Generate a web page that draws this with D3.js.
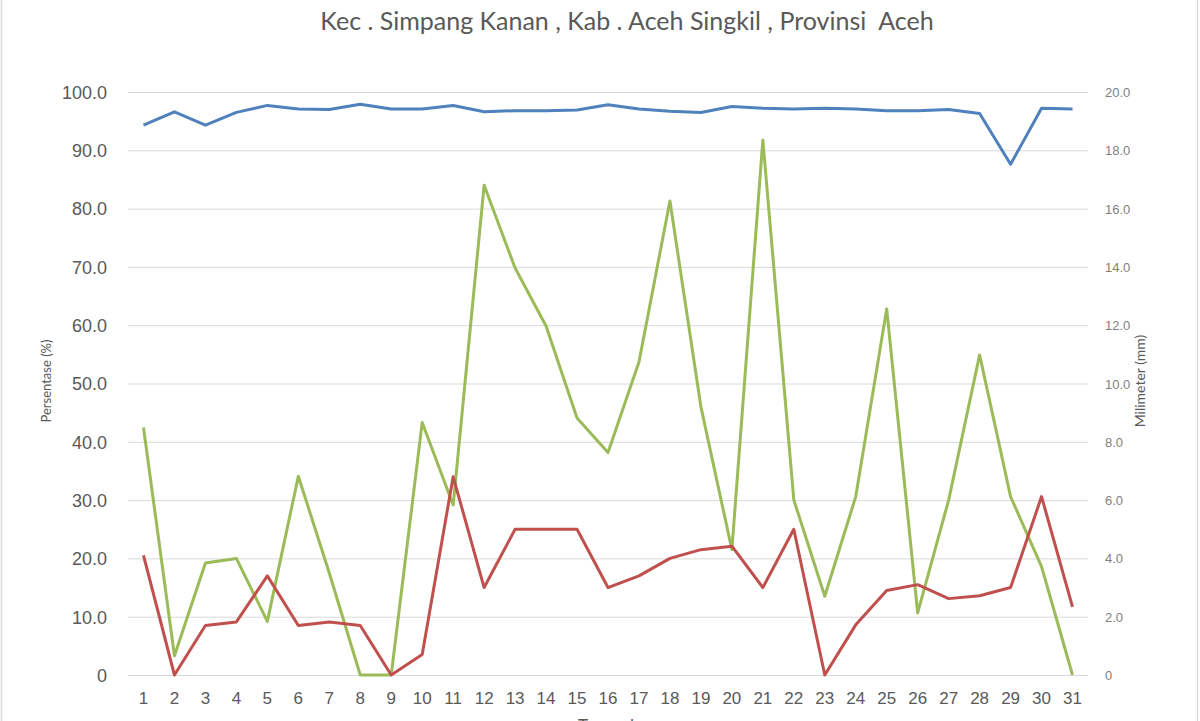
<!DOCTYPE html>
<html>
<head>
<meta charset="utf-8">
<script src="https://cdn.jsdelivr.net/npm/d3@7"></script>
<style>
  body { margin: 0; background: #fff; }
  svg { display: block; font-family: Lato, "Open Sans", sans-serif; }
</style>
</head>
<body>
<div id="chart"></div>
<script>
// days of the month
const days = d3.range(1, 32);

// humidity (%) - left axis
const kelembaban = [94.3, 96.6, 94.3, 96.5, 97.7, 97.1, 97.0, 97.9, 97.1, 97.1,
  97.7, 96.6, 96.8, 96.8, 96.9, 97.8, 97.1, 96.7, 96.5, 97.5,
  97.2, 97.1, 97.2, 97.1, 96.8, 96.8, 97.0, 96.3, 87.6, 97.2, 97.1];

// red series (%) - left axis
const persenMerah = [20.5, 0, 8.5, 9.1, 17.0, 8.5, 9.1, 8.5, 0, 3.5,
  34.0, 15.0, 25.0, 25.0, 25.0, 15.0, 17.0, 20.0, 21.5, 22.1,
  15.0, 25.0, 0, 8.6, 14.5, 15.5, 13.1, 13.6, 15.0, 30.6, 11.7];

// rainfall (mm) - right axis
const curahHujan = [8.49, 0.66, 3.84, 4.0, 1.84, 6.82, 3.5, 0, 0, 8.66,
  5.83, 16.8, 13.96, 11.97, 8.82, 7.63, 10.74, 16.26, 9.2, 4.3,
  18.35, 6.01, 2.7, 6.12, 12.56, 2.13, 6.0, 10.98, 6.12, 3.72, 0];

const leftTicks = [0, 10, 20, 30, 40, 50, 60, 70, 80, 90, 100];
const rightTicks = [0, 2, 4, 6, 8, 10, 12, 14, 16, 18, 20];

const w = 1200;
const h = 721;
const plot = { left: 128, right: 1088, top: 92, bottom: 675 };

const svg = d3.select("#chart").append("svg")
  .attr("width", w)
  .attr("height", h);

// chart border
svg.append("rect")
  .attr("x", 1.5).attr("y", -10)
  .attr("width", 1196).attr("height", h + 20)
  .attr("fill", "none")
  .attr("stroke", "#d9d9d9")
  .attr("stroke-width", 1.5);

// scales
const x = d3.scaleBand().domain(days).range([plot.left, plot.right]);
const yLeft = d3.scaleLinear().domain([0, 100]).range([plot.bottom, plot.top]);
const yRight = d3.scaleLinear().domain([0, 20]).range([plot.bottom, plot.top]);

const fmt = (d) => (d === 0 ? "0" : d3.format(".1f")(d));

// gridlines
svg.append("g")
  .selectAll("line")
  .data(leftTicks)
  .join("line")
  .attr("x1", plot.left).attr("x2", plot.right)
  .attr("y1", (d) => yLeft(d) + 0.5).attr("y2", (d) => yLeft(d) + 0.5)
  .attr("stroke", "#d9d9d9")
  .attr("stroke-width", 1);

// left axis
const leftAxis = svg.append("g")
  .attr("transform", `translate(${plot.left - 18},0)`)
  .call(d3.axisLeft(yLeft).tickValues(leftTicks).tickFormat(fmt).tickSize(0));
leftAxis.select(".domain").remove();
leftAxis.selectAll("text")
  .attr("fill", "#595959")
  .style("font-size", "18px")
  .attr("dy", "0.35em");

// right axis
const rightAxis = svg.append("g")
  .attr("transform", `translate(${plot.right + 14},0)`)
  .call(d3.axisRight(yRight).tickValues(rightTicks).tickFormat(fmt).tickSize(0));
rightAxis.select(".domain").remove();
rightAxis.selectAll("text")
  .attr("fill", "#7f7f7f")
  .style("font-size", "13px")
  .attr("dy", "0.35em");

// x axis
const xAxis = svg.append("g")
  .attr("transform", `translate(0,${plot.bottom + 14})`)
  .call(d3.axisBottom(x).tickSize(0));
xAxis.select(".domain").remove();
xAxis.selectAll("text")
  .attr("fill", "#595959")
  .style("font-size", "17px")
  .attr("dy", "0.71em");

// lines
const cx = (i) => x(days[i]) + x.bandwidth() / 2;

const lineLeft = d3.line().x((d, i) => cx(i)).y((d) => yLeft(d));
const lineRight = d3.line().x((d, i) => cx(i)).y((d) => yRight(d));

svg.append("path")
  .datum(curahHujan)
  .attr("d", lineRight)
  .attr("fill", "none")
  .attr("stroke", "#9bbb59")
  .attr("stroke-width", 3)
  .attr("stroke-linejoin", "round");

svg.append("path")
  .datum(persenMerah)
  .attr("d", lineLeft)
  .attr("fill", "none")
  .attr("stroke", "#c0504d")
  .attr("stroke-width", 3)
  .attr("stroke-linejoin", "round");

svg.append("path")
  .datum(kelembaban)
  .attr("d", lineLeft)
  .attr("fill", "none")
  .attr("stroke", "#4f81bd")
  .attr("stroke-width", 3)
  .attr("stroke-linejoin", "round");

// title
svg.append("text")
  .attr("x", 627)
  .attr("y", 30)
  .attr("text-anchor", "middle")
  .attr("fill", "#595959")
  .style("font-size", "25px")
  .style("white-space", "pre")
  .text("Kec . Simpang Kanan , Kab . Aceh Singkil , Provinsi  Aceh");

// axis titles
svg.append("text")
  .attr("transform", "translate(51,381) rotate(-90)")
  .attr("text-anchor", "middle")
  .attr("fill", "#595959")
  .style("font-size", "13px")
  .text("Persentase (%)");

svg.append("text")
  .attr("transform", "translate(1145,381) rotate(-90)")
  .attr("text-anchor", "middle")
  .attr("fill", "#595959")
  .style("font-size", "14px")
  .text("Milimeter (mm)");

// x axis title, partly below the bottom edge as in the original
svg.append("text")
  .attr("x", 606)
  .attr("y", 732)
  .attr("text-anchor", "middle")
  .attr("fill", "#595959")
  .style("font-size", "17px")
  .text("Tanggal");
</script>
</body>
</html>
